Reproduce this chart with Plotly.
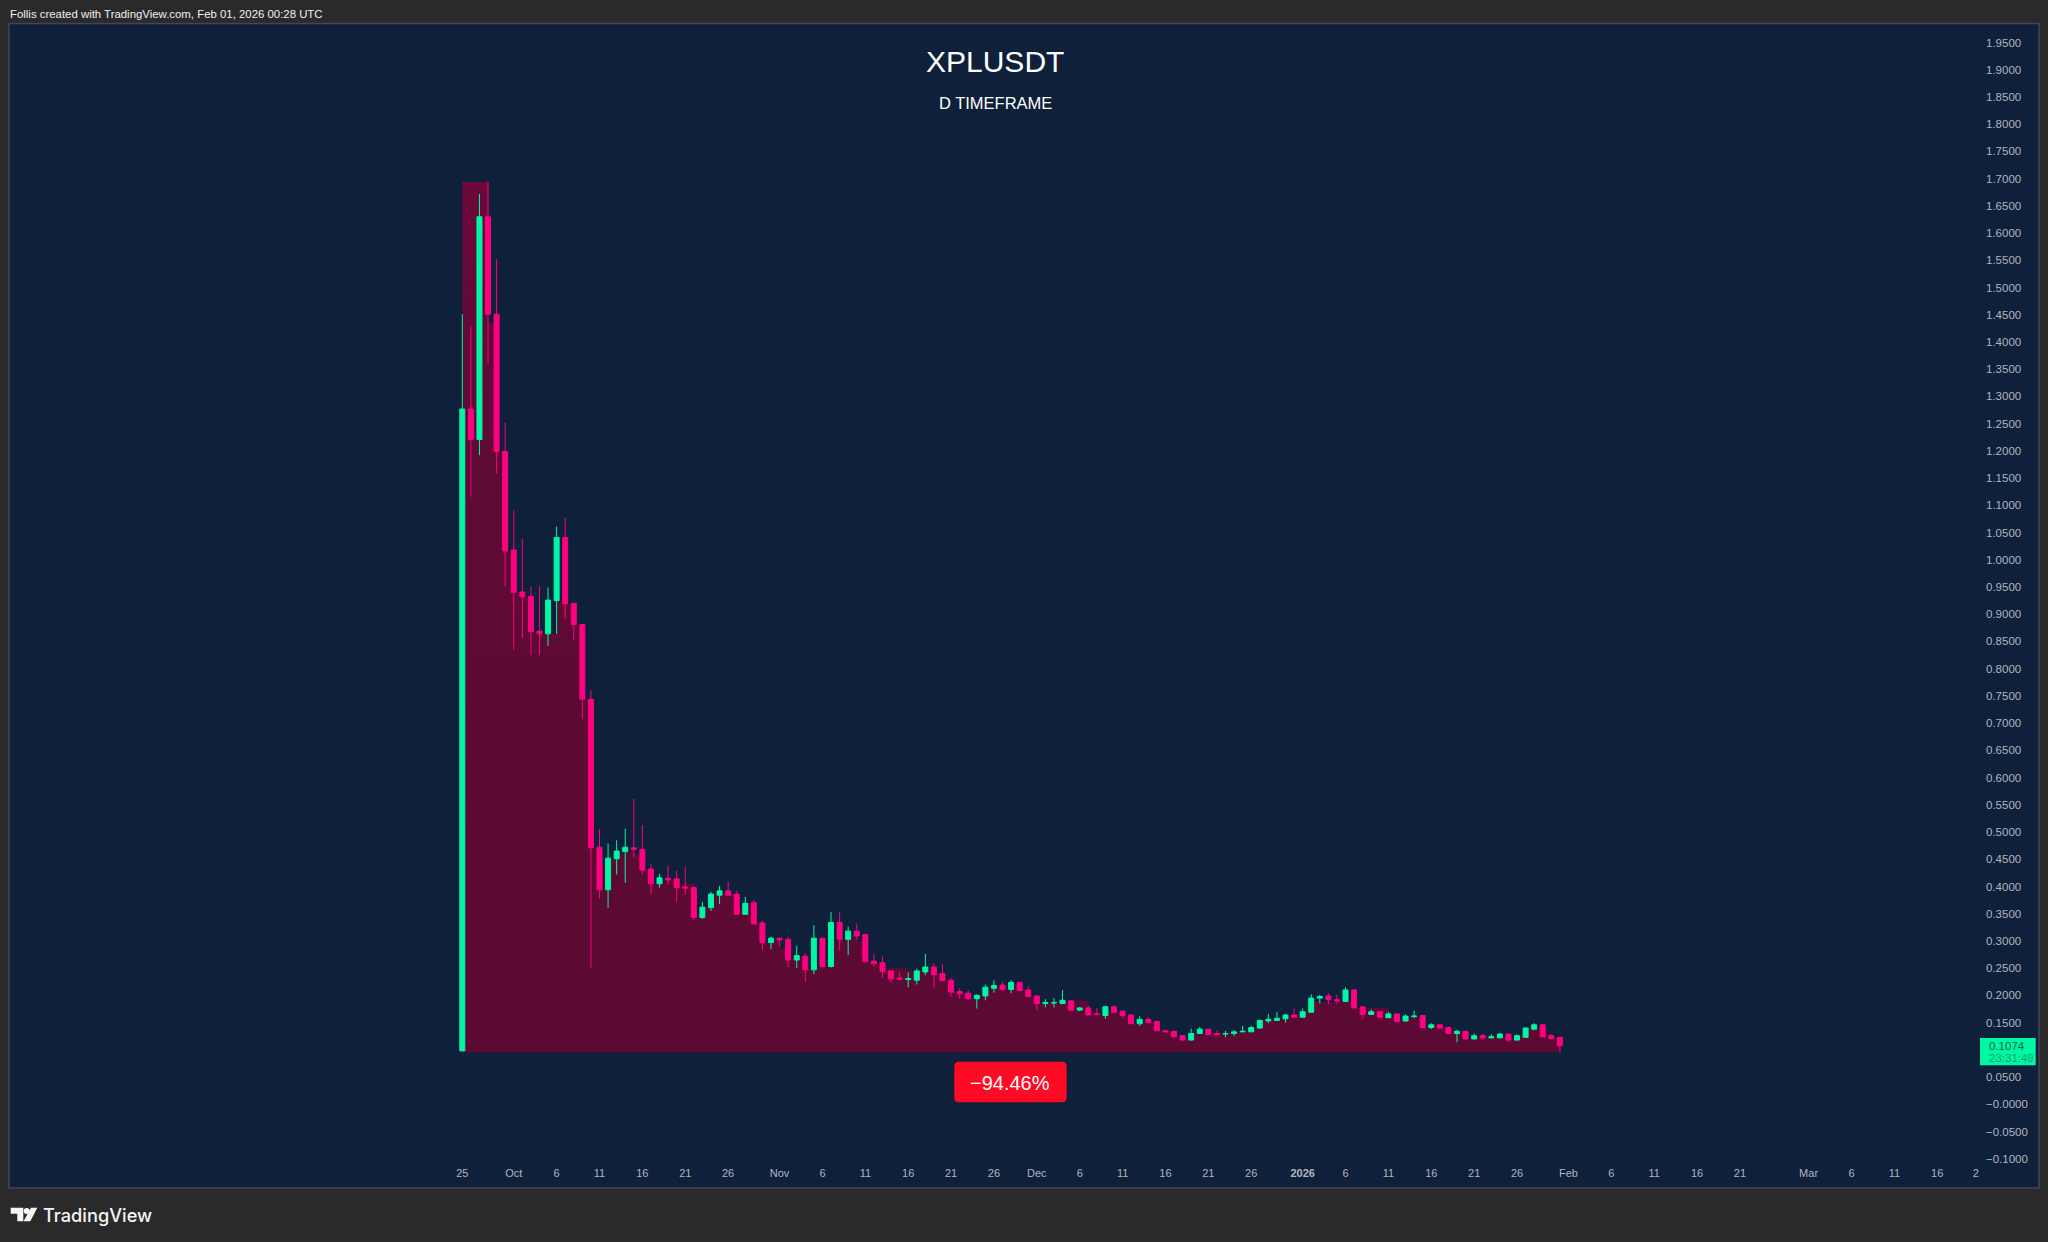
import pandas as pd
import plotly.graph_objects as go

opens = [.098,1.277,1.221,1.630,1.451,1.199,1.018,.941,.933,.869,.864,.925,1.041,.920,.881,.744,.472,.394,.451,.464,
.471,.468,.432,.405,.415,.414,.399,.398,.343,.361,.384,.392,.386,.349,.370,.333,.297,.305,.303,.265,
.272,.247,.305,.253,.334,.303,.318,.312,.263,.260,.245,.232,.229,.228,.243,.252,.240,.228,.207,.204,
.194,.199,.213,.219,.211,.224,.210,.199,.185,.186,.185,.190,.173,.177,.166,.163,.179,.171,.164,.148,
.156,.152,.135,.134,.126,.118,.130,.138,.130,.129,.130,.133,.133,.140,.153,.154,.157,.164,.160,.169,
.195,.199,.192,.189,.210,.179,.165,.170,.159,.166,.153,.161,.163,.141,.146,.141,.130,.134,.120,.126,
.122,.122,.129,.118,.123,.138,.146,.126,.123]
highs = [1.451,1.428,1.672,1.694,1.552,1.252,1.091,1.038,.951,.952,.949,1.061,1.077,.921,.882,.760,.506,.479,.485,.506,
.561,.513,.441,.423,.438,.429,.436,.400,.372,.390,.401,.409,.392,.381,.375,.337,.308,.306,.308,.291,
.277,.329,.306,.353,.353,.326,.332,.313,.276,.271,.246,.244,.242,.249,.276,.259,.257,.233,.213,.209,
.202,.220,.228,.225,.228,.225,.217,.200,.193,.195,.210,.191,.178,.181,.177,.181,.182,.172,.165,.162,
.160,.154,.137,.135,.127,.139,.142,.139,.136,.135,.136,.144,.144,.156,.166,.170,.166,.176,.176,.202,
.201,.204,.201,.215,.211,.180,.174,.171,.170,.167,.165,.172,.164,.149,.147,.143,.137,.135,.130,.129,
.129,.131,.130,.128,.141,.149,.147,.128,.124]
lows = [.098,1.116,1.192,1.361,1.159,.951,.834,.856,.825,.826,.842,.864,.891,.853,.708,.250,.378,.361,.422,.407,
.453,.422,.385,.398,.404,.372,.386,.338,.341,.355,.368,.384,.348,.349,.331,.283,.285,.289,.252,.250,
.225,.239,.252,.251,.282,.274,.302,.261,.252,.233,.223,.228,.215,.220,.237,.214,.227,.198,.194,.192,
.176,.191,.205,.208,.204,.207,.198,.173,.178,.178,.185,.173,.171,.164,.163,.157,.168,.159,.147,.144,
.150,.135,.133,.124,.116,.117,.129,.127,.127,.123,.125,.133,.133,.139,.149,.153,.150,.158,.159,.169,
.185,.184,.185,.188,.177,.157,.164,.159,.159,.151,.152,.158,.140,.138,.139,.129,.114,.119,.119,.119,
.121,.121,.114,.117,.122,.136,.123,.120,.0947]
closes = [1.277,1.221,1.630,1.451,1.199,1.016,.940,.932,.868,.864,.926,1.041,.919,.881,.744,.471,.394,.452,.465,.472,
.468,.430,.405,.416,.412,.398,.397,.343,.362,.386,.392,.384,.349,.369,.331,.297,.305,.302,.265,.273,
.247,.305,.253,.334,.303,.318,.309,.262,.258,.244,.230,.230,.231,.245,.252,.238,.227,.206,.203,.194,
.200,.215,.218,.211,.224,.209,.198,.185,.187,.187,.191,.173,.177,.164,.165,.179,.169,.163,.148,.156,
.150,.135,.133,.124,.118,.130,.138,.128,.128,.130,.133,.134,.141,.154,.156,.158,.164,.160,.170,.195,
.198,.192,.190,.210,.177,.165,.170,.160,.166,.152,.162,.162,.141,.146,.140,.130,.134,.120,.126,.122,
.124,.129,.118,.126,.140,.146,.124,.121,.1074]
area_top = [1.694,1.694,1.694,1.435,1.199,1.016,.94,.932,.868,.864,.864,.925,.919,.881,.744,.471,.44,.45,.46,.465,
.46,.43,.405,.41,.412,.405,.405,.35,.362,.386,.39,.386,.36,.369,.333,.297,.302,.287,.268,.27,
.25,.253,.253,.30,.303,.31,.30,.262,.258,.25,.25,.25,.245,.245,.245,.24,.227,.206,.203,.195,
.198,.212,.215,.212,.22,.21,.198,.185,.187,.187,.19,.19,.19,.172,.165,.172,.17,.163,.148,.15,
.15,.135,.134,.124,.12,.13,.13,.13,.13,.132,.133,.134,.14,.155,.155,.158,.16,.165,.17,.19,
.188,.188,.19,.19,.177,.177,.177,.177,.163,.155,.16,.16,.142,.146,.142,.135,.134,.12,.124,.122,
.124,.124,.12,.125,.14,.14,.13,.122,.122]
area_floor = .0958
start_date = "2025-09-25"

y_ticks = [1.95,1.9,1.85,1.8,1.75,1.7,1.65,1.6,1.55,1.5,1.45,1.4,1.35,1.3,1.25,1.2,1.15,1.1,1.05,1.0,.95,.9,.85,.8,.75,.7,.65,.6,.55,.5,.45,.4,.35,.3,.25,.2,.15,.05,0,-.05,-.1]
y_labels = ["1.9500","1.9000","1.8500","1.8000","1.7500","1.7000","1.6500","1.6000","1.5500","1.5000","1.4500","1.4000","1.3500","1.3000","1.2500","1.2000","1.1500","1.1000","1.0500","1.0000","0.9500","0.9000","0.8500","0.8000","0.7500","0.7000","0.6500","0.6000","0.5500","0.5000","0.4500","0.4000","0.3500","0.3000","0.2500","0.2000","0.1500","0.0500","−0.0000","−0.0500","−0.1000"]
x_ticks = ["2025-09-25","2025-10-01","2025-10-06","2025-10-11","2025-10-16","2025-10-21","2025-10-26","2025-11-01","2025-11-06","2025-11-11","2025-11-16","2025-11-21","2025-11-26","2025-12-01","2025-12-06","2025-12-11","2025-12-16","2025-12-21","2025-12-26","2026-01-01","2026-01-06","2026-01-11","2026-01-16","2026-01-21","2026-01-26","2026-02-01","2026-02-06","2026-02-11","2026-02-16","2026-02-21","2026-03-01","2026-03-06","2026-03-11","2026-03-16","2026-03-20 12:00"]
x_labels = ["25","Oct","6","11","16","21","26","Nov","6","11","16","21","26","Dec","6","11","16","21","26","<b>2026</b>","6","11","16","21","26","Feb","6","11","16","21","Mar","6","11","16","2"]

W, H = 2048, 1242
PL, PR, PT, PB = 9, 1984, 24, 1165      # plot rectangle on the page
PANEL_R, PANEL_B = 2039, 1188
GREEN, RED = "#00F7A5", "#FF0080"
PANEL, PAGE, FRAME = "#0F203B", "#2A2A2A", "#434651"
TEXT = "#B2B5BE"
FONT = "Liberation Sans"

def fx(px): return (px - PL) / (PR - PL)
def fy(py): return 1 - (py - PT) / (PB - PT)
def path(*pts):
    parts = []
    for p in pts:
        if isinstance(p, str):
            parts.append(p)
        else:
            parts.append(f"{fx(p[0]):.5f},{fy(p[1]):.5f}")
    return " ".join(parts)

dates = pd.date_range(start_date, periods=len(closes), freq="D")
day_px = 8.575
x0_px = 462.3
x_range = [dates[0] + pd.Timedelta(days=(PL - x0_px) / day_px),
           dates[0] + pd.Timedelta(days=(PR - x0_px) / day_px)]
y_range = [-0.1115, 1.984]

fig = go.Figure()
fig.add_trace(go.Scatter(x=dates, y=[area_floor] * len(dates), mode="lines",
                         line=dict(width=0, color="rgba(0,0,0,0)"), hoverinfo="skip", showlegend=False))
fig.add_trace(go.Scatter(x=dates, y=area_top, mode="lines", line=dict(width=0, shape="hv", color="rgba(0,0,0,0)"),
                         fill="tonexty", fillcolor="#5E0A34",
                         fillgradient=dict(type="vertical", colorscale=[[0, "#5C0A33"], [0.75, "#5F0A34"], [1, "#6C083B"]]),
                         hoverinfo="skip", showlegend=False))
fig.add_trace(go.Candlestick(x=dates, open=opens, high=highs, low=lows, close=closes,
                             whiskerwidth=0, zorder=1,
                             increasing=dict(line=dict(color=GREEN, width=1), fillcolor=GREEN),
                             decreasing=dict(line=dict(color=RED, width=1), fillcolor=RED),
                             showlegend=False))

shapes = [
    dict(type="rect", xref="paper", yref="paper", x0=fx(9), x1=fx(PANEL_R), y0=fy(PANEL_B), y1=fy(23.5),
         fillcolor=PANEL, line=dict(color=FRAME, width=1.5), layer="below"),
    dict(type="rect", xref="paper", yref="paper", x0=fx(1980), x1=fx(2035.7), y0=fy(1065.3), y1=fy(1038),
         fillcolor=GREEN, line=dict(width=0), layer="above"),
    # rounded badge
    dict(type="path", xref="paper", yref="paper", layer="above", fillcolor="#FF0A24", line=dict(width=0),
         path=path("M", (959, 1061.7), "L", (1062, 1061.7), "Q", (1066.7, 1061.7), (1066.7, 1066.5),
                   "L", (1066.7, 1097.5), "Q", (1066.7, 1102.3), (1062, 1102.3),
                   "L", (959, 1102.3), "Q", (954.3, 1102.3), (954.3, 1097.5),
                   "L", (954.3, 1066.5), "Q", (954.3, 1061.7), (959, 1061.7), "Z")),
    # TradingView mark
    dict(type="path", xref="paper", yref="paper", layer="above", fillcolor="#F5F5F5", line=dict(width=0),
         path=path("M", (10.7, 1207.8), "L", (23.3, 1207.8), "L", (23.3, 1221.3), "L", (17.3, 1221.3),
                   "L", (17.3, 1213.8), "L", (10.7, 1213.8), "Z")),
    dict(type="circle", xref="paper", yref="paper", layer="above", fillcolor="#F5F5F5", line=dict(width=0),
         x0=fx(23.7), x1=fx(29.7), y0=fy(1214), y1=fy(1208)),
    dict(type="path", xref="paper", yref="paper", layer="above", fillcolor="#F5F5F5", line=dict(width=0),
         path=path("M", (31, 1207.8), "L", (37.3, 1207.8), "L", (30.3, 1221.3), "L", (23.6, 1221.3), "Z")),
]

def note(px, py, text, size, color, anchor="center", font=FONT, weight="normal"):
    return dict(xref="paper", yref="paper", x=fx(px), y=fy(py), text=text, showarrow=False,
                xanchor=anchor, yanchor="middle", font=dict(size=size, color=color, family=font, weight=weight))

annotations = [
    note(995, 62, "XPLUSDT", 30, "#FFFFFF"),
    note(995, 103, "D TIMEFRAME", 16.5, "#FFFFFF"),
    note(1010.5, 1083, "−94.46%", 20, "#FFFFFF"),
    note(1987, 1045.6, "0.1074", 11.5, "#07683F", "left"),
    note(1987, 1057.5, "23:31:49", 11.5, "#07A566", "left"),
    note(7.5, 14, "Follis created with TradingView.com, Feb 01, 2026 00:28 UTC", 11.4, "#F0F0F0", "left"),
    note(41, 1215, "TradingView", 18.2, "#F5F5F5", "left", "Inter", 500),
]

fig.update_layout(
    width=W, height=H, paper_bgcolor=PAGE, plot_bgcolor=PANEL,
    margin=dict(l=PL, r=W - PR, t=PT, b=H - PB, autoexpand=False),
    font=dict(family=FONT, size=11.5, color=TEXT),
    shapes=shapes, annotations=annotations, showlegend=False, hovermode=False, boxgap=0.17,
    xaxis=dict(type="date", range=x_range, rangeslider=dict(visible=False), showgrid=False, zeroline=False,
               showline=False, ticks="", tickmode="array", tickvals=x_ticks, ticktext=x_labels,
               tickangle=0, tickfont=dict(size=11, color=TEXT)),
    yaxis=dict(side="right", range=y_range, showgrid=False, zeroline=False, showline=False, ticks="",
               ticklabelstandoff=1, tickmode="array", tickvals=y_ticks, ticktext=y_labels,
               tickfont=dict(size=11.5, color=TEXT)),
)

fig.write_html("out.html", config=dict(displayModeBar=False),
               post_script="document.body.style.margin='0';document.body.style.overflow='hidden';document.body.style.background='#2A2A2A';")
